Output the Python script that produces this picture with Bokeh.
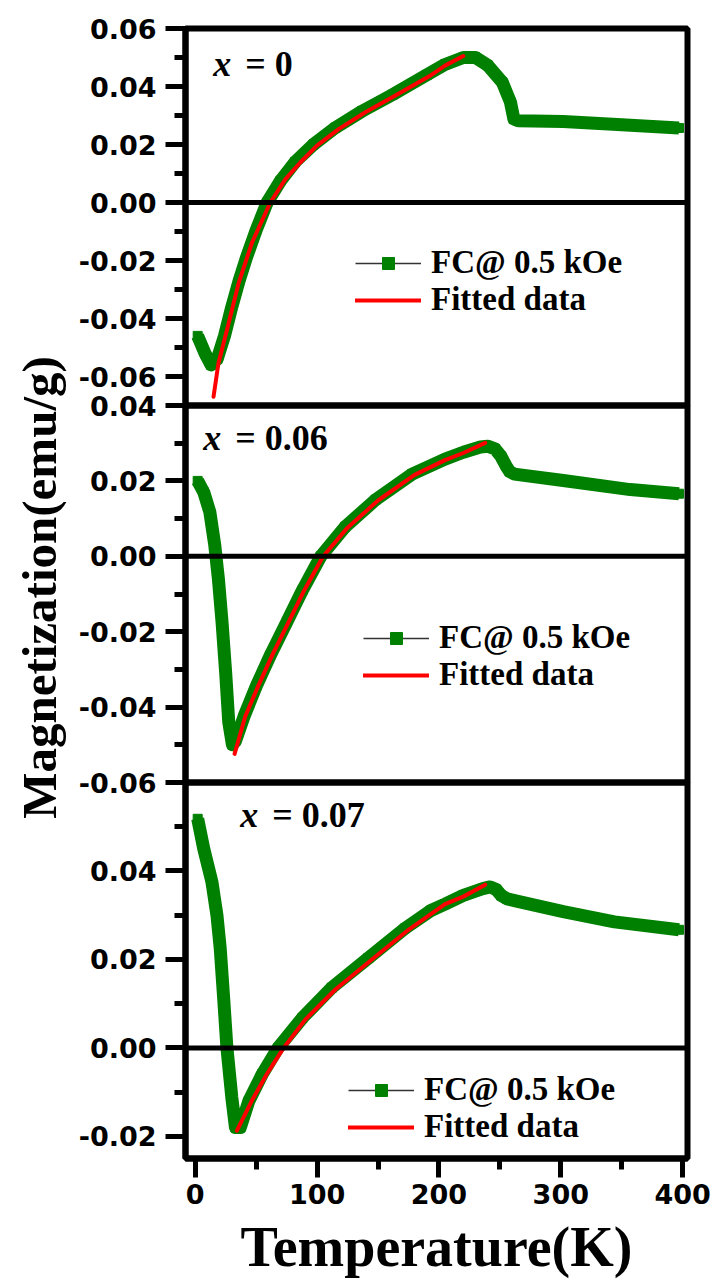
import math
from bokeh.plotting import figure
from bokeh.layouts import row, column
from bokeh.models import (Range1d, FixedTicker, PrintfTickFormatter, Span, Label,
                          Legend, LegendItem)
from bokeh.embed import file_html
from bokeh.resources import INLINE

# ---------------- data ----------------
# Panel x = 0
T_fc_0 = [2, 8, 13, 18, 24, 30, 36, 42, 50, 59, 70, 82, 97, 115, 137, 162, 190, 205,
          220, 230, 240, 252, 258.7, 261.5, 265, 302, 350, 397]
M_fc_0 = [-0.046, -0.052, -0.056, -0.054, -0.046, -0.036, -0.027, -0.019, -0.0095, 0.0,
          0.0075, 0.014, 0.0200, 0.0258, 0.0315, 0.0372, 0.0440, 0.0476,
          0.0500, 0.0500, 0.0473, 0.0415, 0.0346, 0.0288, 0.0282, 0.0279, 0.0268, 0.0257]
T_fit_0 = [15, 19, 27.4, 35.6, 46.5, 61.6, 73.9, 86.2, 99.9, 117.7, 139.6, 164.3, 192, 205, 220]
M_fit_0 = [-0.067, -0.0555, -0.0416, -0.0278, -0.0139, 0.0, 0.008, 0.0138, 0.0196, 0.0253,
           0.0311, 0.0369, 0.0435, 0.0472, 0.0505]

# Panel x = 0.06
T_fc_06 = [2, 7, 12, 16, 19, 22, 25, 27.5, 30.5, 33, 40, 50, 62, 75, 88, 103, 123, 148,
           178, 205, 220, 234, 240, 246, 251, 255, 258, 262, 302, 357, 397]
M_fc_06 = [0.020, 0.017, 0.0117, 0.003, -0.006, -0.0175, -0.031, -0.044, -0.050, -0.0490,
           -0.0425, -0.0345, -0.0260, -0.0175, -0.0090, 0.0, 0.0078, 0.0150,
           0.0218, 0.0258, 0.0276, 0.0290, 0.0292, 0.0285, 0.0265, 0.0240, 0.0225, 0.0218,
           0.0201, 0.0177, 0.0166]
T_fit_06 = [32.3, 41, 51.5, 63.5, 76.5, 89.5, 105, 125, 150, 180, 205, 220, 238]
M_fit_06 = [-0.0524, -0.0425, -0.0345, -0.0260, -0.0175, -0.0090, 0.0, 0.0076, 0.0148,
            0.0216, 0.0255, 0.0274, 0.0301]

# Panel x = 0.07
T_fc_07 = [2, 7, 13.7, 17.8, 20.5, 23.3, 26, 30, 33, 37, 44, 55, 68, 88, 112, 142, 172,
           193, 205, 220, 236, 242, 247, 251, 256, 262, 302, 344, 397]
M_fc_07 = [0.0518, 0.045, 0.0375, 0.030, 0.0225, 0.0113, 0.0, -0.0112, -0.018, -0.018,
           -0.012, -0.0059, 0.0, 0.0068, 0.0136, 0.0203, 0.027,
           0.0310, 0.0325, 0.0345, 0.0360, 0.0364, 0.0358, 0.0345, 0.0337, 0.0333,
           0.0308, 0.0285, 0.0267]
T_fit_07 = [34.2, 46.5, 58.8, 72.5, 90.3, 115, 145, 175, 205, 220, 238]
M_fit_07 = [-0.0187, -0.0119, -0.0059, 0.0, 0.0064, 0.0132, 0.020, 0.0267, 0.0325,
            0.0342, 0.0369]

panel_values = ["= 0", "= 0.06", "= 0.07"]
legend_labels = ["FC@ 0.5 kOe", "Fitted data"]

y_ticks_0 = [-0.06, -0.04, -0.02, 0.0, 0.02, 0.04, 0.06]
y_minor_0 = [-0.07, -0.05, -0.03, -0.01, 0.01, 0.03, 0.05]
y_ticks_06 = [-0.06, -0.04, -0.02, 0.0, 0.02, 0.04]
y_minor_06 = [-0.05, -0.03, -0.01, 0.01, 0.03]
y_ticks_07 = [-0.02, 0.0, 0.02, 0.04]
y_minor_07 = [-0.01, 0.01, 0.03, 0.05]
x_ticks = [0, 100, 200, 300, 400]
x_minor = [50, 150, 250, 350]

x_label = "Temperature(K)"
y_label = "Magnetization(emu/g)"

# ---------------- styling ----------------
GREEN = "#008000"
RED = "#ff0000"
SERIF = "Liberation Serif"
SANS = "DejaVu Sans"

x_range = Range1d(-8, 404)


def style_y(p, ticks, minor):
    ax = p.yaxis[0]
    ax.ticker = FixedTicker(ticks=ticks, minor_ticks=minor)
    ax.formatter = PrintfTickFormatter(format="%.2f")
    ax.axis_line_width = 6
    ax.major_tick_line_width = 5
    ax.minor_tick_line_width = 5
    ax.major_tick_in = 0
    ax.major_tick_out = 20
    ax.minor_tick_in = 0
    ax.minor_tick_out = 11
    ax.major_label_standoff = 9
    ax.major_label_text_font = SANS
    ax.major_label_text_font_style = "bold"
    ax.major_label_text_font_size = "27px"
    ax.major_label_text_color = "black"


def make_panel(height, top, bottom, y_rng, with_x):
    p = figure(width=648, height=height, x_range=x_range, y_range=y_rng,
               toolbar_location=None, output_backend="svg",
               x_axis_location="below" if with_x else None,
               min_border_left=115, min_border_right=31,
               min_border_top=top, min_border_bottom=bottom,
               outline_line_color="black", outline_line_width=6,
               background_fill_alpha=0, border_fill_alpha=0)
    p.grid.visible = False
    p.add_layout(Span(location=0, dimension="width", line_color="black", line_width=5))
    return p


def add_curves(p, T_fc, M_fc, T_fit, M_fit):
    # thin connecting line and square symbols of the FC data (Origin "line+symbol" style)
    thin = p.line(T_fc, M_fc, line_color="#333333", line_width=1.3)
    p.line(T_fc, M_fc, line_color=GREEN, line_width=13, line_join="round")
    sq = p.scatter(T_fc, M_fc, marker="square", size=9, fill_color=GREEN, line_color=GREEN)
    fit = p.line(T_fit, M_fit, line_color=RED, line_width=4, line_cap="round",
                 line_join="round")
    return fit, thin, sq


def add_legend(p, fit, thin, sq, loc):
    lg = Legend(items=[LegendItem(label=legend_labels[0], renderers=[thin, sq]),
                       LegendItem(label=legend_labels[1], renderers=[fit])],
                location=loc, orientation="vertical",
                border_line_alpha=0, background_fill_alpha=0,
                padding=0, margin=0, spacing=0,
                glyph_width=66, glyph_height=30, label_height=30, label_standoff=10,
                label_text_font=SERIF, label_text_font_style="bold",
                label_text_font_size="33px", label_text_color="black")
    p.add_layout(lg, "center")


def add_tag(p, x, y, value):
    p.add_layout(Label(x=x, y=y, text="x", text_font=SERIF, text_font_style="bold italic",
                       text_font_size="36px", text_baseline="middle", text_align="left",
                       text_color="black"))
    p.add_layout(Label(x=x, y=y, x_offset=32, text=value, text_font=SERIF,
                       text_font_style="bold", text_font_size="36px",
                       text_baseline="middle", text_align="left", text_color="black"))


# Panel 1
p1 = make_panel(425, 28, 20, Range1d(-0.07, 0.06), False)
style_y(p1, y_ticks_0, y_minor_0)
r = add_curves(p1, T_fc_0, M_fc_0, T_fit_0, M_fit_0)
add_legend(p1, *r, loc=(170, 87))
add_tag(p1, 14.8, 0.0479, panel_values[0])

# Panel 2
p2 = make_panel(417, 20, 20, Range1d(-0.06, 0.04), False)
p2.margin = (-40, 0, 0, 0)
style_y(p2, y_ticks_06, y_minor_06)
r = add_curves(p2, T_fc_06, M_fc_06, T_fit_06, M_fit_06)
add_legend(p2, *r, loc=(178, 89))
add_tag(p2, 6.6, 0.0313, panel_values[1])

# Panel 3
p3 = make_panel(521, 20, 125, Range1d(-0.025, 0.06), True)
p3.margin = (-40, 0, 0, 0)
style_y(p3, y_ticks_07, y_minor_07)
r = add_curves(p3, T_fc_07, M_fc_07, T_fit_07, M_fit_07)
add_legend(p3, *r, loc=(163, 13))
add_tag(p3, 37, 0.0526, panel_values[2])

xa = p3.xaxis[0]
xa.ticker = FixedTicker(ticks=x_ticks, minor_ticks=x_minor)
xa.axis_line_width = 6
xa.major_tick_line_width = 5
xa.minor_tick_line_width = 5
xa.major_tick_in = 0
xa.major_tick_out = 19
xa.minor_tick_in = 0
xa.minor_tick_out = 11
xa.major_label_standoff = 6
xa.major_label_text_font = SANS
xa.major_label_text_font_style = "bold"
xa.major_label_text_font_size = "27px"
xa.major_label_text_color = "black"
xa.axis_label = x_label
xa.axis_label_standoff = 9
xa.axis_label_text_font = SERIF
xa.axis_label_text_font_style = "bold"
xa.axis_label_text_font_size = "56px"
xa.axis_label_text_color = "black"

# Y label figure
pl = figure(width=70, height=1283, x_range=Range1d(0, 1), y_range=Range1d(0, 1),
            toolbar_location=None, output_backend="svg",
            x_axis_location=None, y_axis_location=None, min_border=0,
            outline_line_color=None, background_fill_alpha=0, border_fill_alpha=0)
pl.grid.visible = False
pl.add_layout(Label(x=39, y=696, x_units="screen", y_units="screen", text=y_label,
                    angle=math.pi / 2, text_align="center", text_baseline="middle",
                    text_font=SERIF, text_font_style="bold", text_font_size="49px",
                    text_color="black"))

layout = row(pl, column(p1, p2, p3, spacing=0), spacing=0)

open("out.html", "w").write(file_html(layout, INLINE))
